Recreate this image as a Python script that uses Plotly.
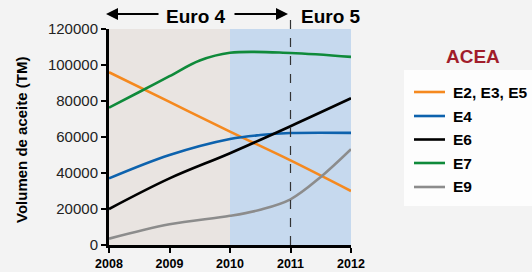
import plotly.graph_objects as go

years = [2008, 2009, 2010, 2011, 2012]
series_names = ["E2, E3, E5", "E4", "E6", "E7", "E9"]
colors = ["#f5891f", "#0d62ad", "#000000", "#0f8a3a", "#8c8c8c"]

e2_e3_e5 = [96000, 79500, 63000, 47000, 30000]
e4_x = [2008, 2009, 2010, 2010.5, 2011, 2012]
e4 = [37000, 50000, 58900, 61100, 62200, 62300]
e6 = [20000, 37000, 51000, 66000, 81500]
e7_x = [2008, 2008.5, 2009, 2009.5, 2010, 2011, 2012]
e7 = [76300, 85000, 93800, 102500, 106800, 106700, 104500]
e9_x = [2008, 2009, 2010, 2010.5, 2011, 2011.5, 2012]
e9 = [3500, 11500, 16200, 19600, 25400, 37800, 53200]

xs = [years, e4_x, years, e7_x, e9_x]
ys = [e2_e3_e5, e4, e6, e7, e9]

y_ticks = [0, 20000, 40000, 60000, 80000, 100000, 120000]
x_ticks = years

fig = go.Figure()
for name, c, x, y in zip(series_names, colors, xs, ys):
    fig.add_trace(go.Scatter(x=x, y=y, name=name, mode="lines", showlegend=False,
                             line=dict(color=c, width=2.6, shape="spline", smoothing=1.0)))

def px_x(p):
    return (p - 109) / 242
def px_y(p):
    return (245 - p) / 216

shapes = [
    dict(type="rect", xref="paper", yref="paper", x0=px_x(404), x1=px_x(540), y0=px_y(206), y1=px_y(70),
         fillcolor="#fdfdfd", line=dict(width=0), layer="below"),
    dict(type="rect", xref="x", yref="paper", x0=2010, x1=2012, y0=0, y1=1,
         fillcolor="#c6d9ee", line=dict(width=0), layer="below"),
    dict(type="line", xref="x", yref="paper", x0=2011, x1=2011, y0=0, y1=px_y(12),
         line=dict(color="#333", width=1.2, dash="dash")),
]

# custom legend
legend_rows = [92, 116, 139.5, 163, 187]
for name, c, ry in zip(series_names, colors, legend_rows):
    shapes.append(dict(type="line", xref="paper", yref="paper", x0=px_x(414), x1=px_x(445),
                       y0=px_y(ry), y1=px_y(ry), line=dict(color=c, width=2.6)))
    fig.add_annotation(text=f"<b>{name}</b>", x=px_x(451), y=px_y(ry), xref="paper", yref="paper",
                       xanchor="left", yanchor="middle", showarrow=False,
                       font=dict(size=15.5, color="#000"))

fig.update_layout(
    width=532, height=272,
    margin=dict(l=109, r=181, t=29, b=27),
    paper_bgcolor="#f3f3f3",
    plot_bgcolor="#e9e4e1",
    font=dict(family="Liberation Sans, Arial, sans-serif", color="#222"),
    showlegend=False,
    shapes=shapes,
)

fig.add_annotation(text="<b>Euro 4</b>", x=px_x(196), y=px_y(17), xref="paper", yref="paper",
                   xanchor="center", yanchor="middle",
                   showarrow=False, font=dict(size=19, color="#000"))
fig.add_annotation(text="<b>Euro 5</b>", x=px_x(331), y=px_y(17), xref="paper", yref="paper",
                   xanchor="center", yanchor="middle",
                   showarrow=False, font=dict(size=19, color="#000"))
fig.add_annotation(x=px_x(106), y=px_y(14), ax=54, ay=0, xref="paper", yref="paper",
                   axref="pixel", ayref="pixel", showarrow=True, arrowhead=2, arrowsize=1.2,
                   arrowwidth=2, arrowcolor="#000", text="")
fig.add_annotation(x=px_x(288), y=px_y(14), ax=-55, ay=0, xref="paper", yref="paper",
                   axref="pixel", ayref="pixel", showarrow=True, arrowhead=2, arrowsize=1.2,
                   arrowwidth=2, arrowcolor="#000", text="")
fig.add_annotation(text="<b>ACEA</b>", x=px_x(473), y=px_y(56), xref="paper", yref="paper",
                   xanchor="center", yanchor="middle",
                   showarrow=False, font=dict(size=19, color="#a11d2b"))
fig.add_annotation(text="<b>Volumen de aceite (TM)</b>", x=px_x(21), y=px_y(140), xref="paper", yref="paper",
                   xanchor="center", yanchor="middle",
                   showarrow=False, textangle=-90, font=dict(size=15, color="#000"))

fig.update_xaxes(range=[2008, 2012], tickvals=x_ticks, ticktext=[f"<b>{v}</b>" for v in x_ticks],
                 showgrid=False, zeroline=False, showline=True, linecolor="#000", linewidth=3,
                 ticks="outside", ticklen=5, tickwidth=2, tickcolor="#000", automargin=False,
                 tickfont=dict(size=12.5, color="#000"))
fig.update_yaxes(range=[0, 120000], tickvals=y_ticks, ticktext=[str(v) for v in y_ticks],
                 showgrid=False, zeroline=False, automargin=False,
                 showline=True, linecolor="#000", linewidth=3,
                 ticks="outside", ticklen=5, tickwidth=2, tickcolor="#000",
                 tickfont=dict(size=15, color="#222"))

fig.write_html("out.html", config={"displayModeBar": False},
               post_script="document.body.style.margin='0';document.body.style.overflow='hidden';")
